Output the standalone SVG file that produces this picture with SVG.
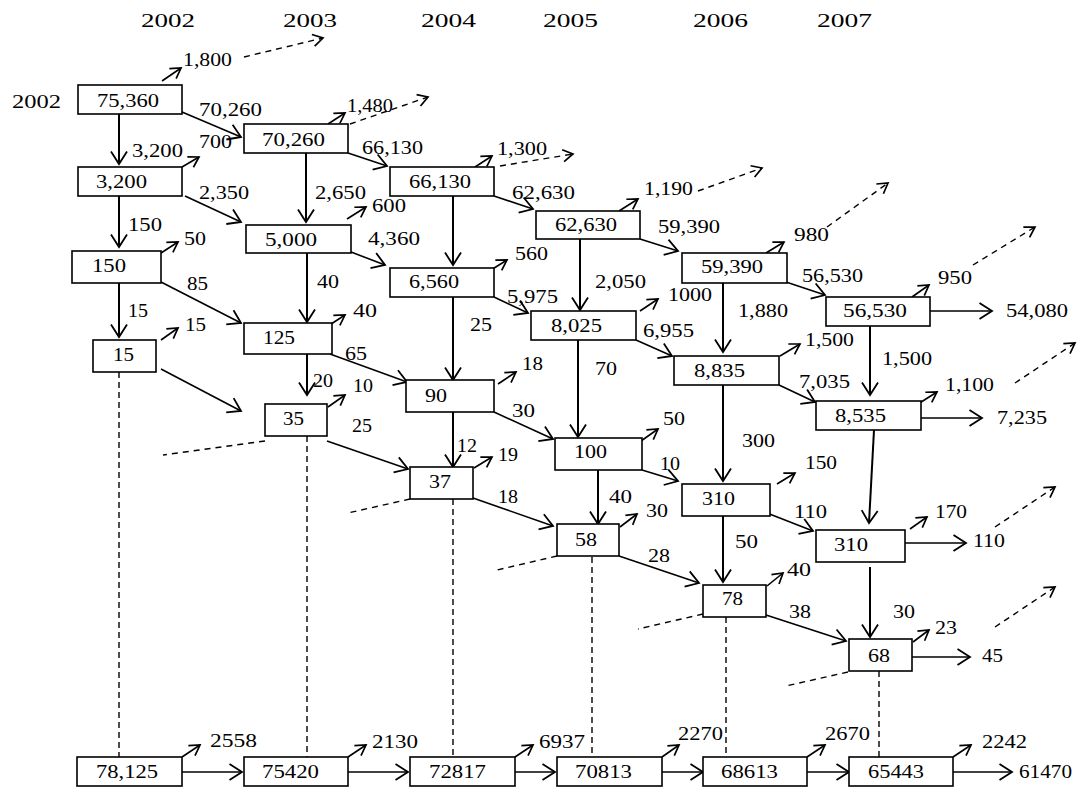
<svg xmlns="http://www.w3.org/2000/svg" width="1081" height="787" viewBox="0 0 1081 787">
<style>
text{font-family:"Liberation Serif","Times New Roman",serif;font-size:18px;fill:#000}
rect{fill:#fff;stroke:#000;stroke-width:1.6}
.c line{stroke:#000;stroke-width:1.6;fill:none}
.c .b{marker-end:url(#big)}
.c .v{stroke-width:2}
.c .s{marker-end:url(#sm)}
.c .d{stroke-dasharray:6 5;stroke-width:1.4}
.c .dv{stroke-dasharray:6 4;stroke-width:1.4}
</style>
<defs>
<marker id="big" markerUnits="userSpaceOnUse" markerWidth="20" markerHeight="20" viewBox="-15 -10 20 20" refX="0" refY="0" orient="auto" overflow="visible">
<path d="M-12.5,-8 L0,0 L-12.5,8" fill="none" stroke="#000" stroke-width="1.8"/>
</marker>
<marker id="sm" markerUnits="userSpaceOnUse" markerWidth="16" markerHeight="16" viewBox="-12 -8 16 16" refX="0" refY="0" orient="auto" overflow="visible">
<path d="M-10,-6 L0,0 L-10,6" fill="none" stroke="#000" stroke-width="1.7"/>
</marker>
</defs>
<rect x="0" y="0" width="1081" height="787" style="fill:#fff;stroke:none"/>

<g id="years">
<text x="141" y="27" textLength="54" lengthAdjust="spacingAndGlyphs">2002</text>
<text x="283" y="27" textLength="54" lengthAdjust="spacingAndGlyphs">2003</text>
<text x="421" y="27" textLength="55" lengthAdjust="spacingAndGlyphs">2004</text>
<text x="543" y="27" textLength="55" lengthAdjust="spacingAndGlyphs">2005</text>
<text x="693" y="27" textLength="55" lengthAdjust="spacingAndGlyphs">2006</text>
<text x="817" y="27" textLength="55" lengthAdjust="spacingAndGlyphs">2007</text>
<text x="12" y="108" textLength="49" lengthAdjust="spacingAndGlyphs">2002</text>
</g>

<g id="connectors" class="c">
<line class="dv" x1="119" y1="372" x2="119" y2="757"/>
<line class="dv" x1="307" y1="436" x2="307" y2="757"/>
<line class="dv" x1="453" y1="499" x2="453" y2="757"/>
<line class="dv" x1="592" y1="557" x2="592" y2="757"/>
<line class="dv" x1="726" y1="617" x2="726" y2="757"/>
<line class="dv" x1="879" y1="671" x2="879" y2="757"/>
<line class="d" x1="265" y1="441" x2="163" y2="455"/>
<line class="d" x1="410" y1="499" x2="348" y2="513"/>
<line class="d" x1="557" y1="556" x2="493" y2="571"/>
<line class="d" x1="703" y1="614" x2="638" y2="629"/>
<line class="d" x1="848" y1="672" x2="786" y2="686"/>
<line class="d s" x1="244" y1="57" x2="323" y2="38"/>
<line class="d s" x1="350" y1="124" x2="428" y2="97"/>
<line class="d s" x1="500" y1="166" x2="573" y2="154"/>
<line class="d s" x1="698" y1="191" x2="762" y2="168"/>
<line class="d s" x1="827" y1="227" x2="888" y2="183"/>
<line class="d s" x1="973" y1="265" x2="1035" y2="227"/>
<line class="d s" x1="1015" y1="383" x2="1075" y2="343"/>
<line class="d s" x1="995" y1="527" x2="1055" y2="487"/>
<line class="d s" x1="995" y1="627" x2="1055" y2="587"/>
<line class="b v" x1="119" y1="114" x2="119" y2="164"/>
<line class="b v" x1="119" y1="196" x2="119" y2="247"/>
<line class="b v" x1="119" y1="283" x2="119" y2="337"/>
<line class="b v" x1="306" y1="153" x2="306" y2="222"/>
<line class="b v" x1="307" y1="253" x2="307" y2="322"/>
<line class="b v" x1="307" y1="354" x2="307" y2="395"/>
<line class="b v" x1="453" y1="196" x2="453" y2="265"/>
<line class="b v" x1="453" y1="297" x2="453" y2="380"/>
<line class="b v" x1="453" y1="412" x2="453" y2="467"/>
<line class="b v" x1="580" y1="239" x2="580" y2="310"/>
<line class="b v" x1="578" y1="340" x2="578" y2="437"/>
<line class="b v" x1="598" y1="470" x2="598" y2="524"/>
<line class="b v" x1="723" y1="283" x2="723" y2="352"/>
<line class="b v" x1="723" y1="385" x2="723" y2="481"/>
<line class="b v" x1="723" y1="516" x2="723" y2="582"/>
<line class="b v" x1="870" y1="326" x2="870" y2="395"/>
<line class="b v" x1="874" y1="430" x2="869" y2="523"/>
<line class="b v" x1="870" y1="567" x2="870" y2="637"/>
<line class="b" x1="182" y1="112" x2="241" y2="137"/>
<line class="b" x1="185" y1="196" x2="241" y2="222"/>
<line class="b" x1="161" y1="282" x2="241" y2="323"/>
<line class="b" x1="161" y1="369" x2="241" y2="411"/>
<line class="b" x1="348" y1="153" x2="387" y2="166"/>
<line class="b" x1="351" y1="252" x2="385" y2="265"/>
<line class="b" x1="330" y1="354" x2="407" y2="382"/>
<line class="b" x1="327" y1="441" x2="408" y2="469"/>
<line class="b" x1="494" y1="196" x2="533" y2="209"/>
<line class="b" x1="494" y1="297" x2="528" y2="313"/>
<line class="b" x1="494" y1="412" x2="553" y2="439"/>
<line class="b" x1="473" y1="498" x2="553" y2="526"/>
<line class="b" x1="640" y1="239" x2="678" y2="251"/>
<line class="b" x1="636" y1="340" x2="672" y2="356"/>
<line class="b" x1="642" y1="470" x2="678" y2="481"/>
<line class="b" x1="619" y1="556" x2="699" y2="583"/>
<line class="b" x1="786" y1="282" x2="825" y2="295"/>
<line class="b" x1="779" y1="385" x2="815" y2="402"/>
<line class="b" x1="767" y1="513" x2="813" y2="531"/>
<line class="b" x1="766" y1="615" x2="846" y2="641"/>
<line class="b" x1="930" y1="311" x2="992" y2="311"/>
<line class="b" x1="921" y1="418" x2="982" y2="418"/>
<line class="b" x1="905" y1="543" x2="966" y2="543"/>
<line class="b" x1="912" y1="657" x2="970" y2="657"/>
<line class="b" x1="182" y1="772" x2="242" y2="772"/>
<line class="b" x1="348" y1="772" x2="408" y2="772"/>
<line class="b" x1="515" y1="772" x2="555" y2="772"/>
<line class="b" x1="662" y1="772" x2="703" y2="772"/>
<line class="b" x1="807" y1="772" x2="849" y2="772"/>
<line class="b" x1="953" y1="772" x2="1012" y2="772"/>
<line class="s" x1="162" y1="81" x2="181" y2="68"/>
<line class="s" x1="328" y1="124" x2="345" y2="113"/>
<line class="s" x1="182" y1="167" x2="199" y2="157"/>
<line class="s" x1="161" y1="253" x2="178" y2="242"/>
<line class="s" x1="347" y1="219" x2="366" y2="207"/>
<line class="s" x1="475" y1="167" x2="492" y2="156"/>
<line class="s" x1="619" y1="211" x2="638" y2="199"/>
<line class="s" x1="491" y1="270" x2="507" y2="260"/>
<line class="s" x1="766" y1="253" x2="784" y2="242"/>
<line class="s" x1="161" y1="340" x2="178" y2="328"/>
<line class="s" x1="328" y1="326" x2="345" y2="315"/>
<line class="s" x1="328" y1="407" x2="345" y2="395"/>
<line class="s" x1="640" y1="311" x2="658" y2="299"/>
<line class="s" x1="498" y1="384" x2="516" y2="372"/>
<line class="s" x1="641" y1="441" x2="658" y2="429"/>
<line class="s" x1="474" y1="468" x2="492" y2="457"/>
<line class="s" x1="912" y1="297" x2="929" y2="285"/>
<line class="s" x1="780" y1="356" x2="800" y2="344"/>
<line class="s" x1="918" y1="404" x2="937" y2="392"/>
<line class="s" x1="777" y1="484" x2="795" y2="473"/>
<line class="s" x1="620" y1="527" x2="637" y2="514"/>
<line class="s" x1="910" y1="529" x2="927" y2="517"/>
<line class="s" x1="767" y1="586" x2="783" y2="573"/>
<line class="s" x1="913" y1="642" x2="929" y2="630"/>
<line class="s" x1="182" y1="757" x2="200" y2="745"/>
<line class="s" x1="348" y1="757" x2="366" y2="745"/>
<line class="s" x1="515" y1="757" x2="533" y2="745"/>
<line class="s" x1="662" y1="757" x2="679" y2="745"/>
<line class="s" x1="807" y1="757" x2="825" y2="745"/>
<line class="s" x1="953" y1="757" x2="971" y2="745"/>
</g>

<g id="nodes">
<g id="n-75360"><rect x="78" y="85" width="104" height="29"/><text x="97" y="107" textLength="62" lengthAdjust="spacingAndGlyphs">75,360</text></g>
<g id="n-70260"><rect x="244" y="124" width="104" height="29"/><text x="262" y="146" textLength="63" lengthAdjust="spacingAndGlyphs">70,260</text></g>
<g id="n-3200"><rect x="78" y="167" width="104" height="29"/><text x="96" y="188" textLength="51" lengthAdjust="spacingAndGlyphs">3,200</text></g>
<g id="n-5000"><rect x="246" y="225" width="105" height="28"/><text x="265" y="246" textLength="52" lengthAdjust="spacingAndGlyphs">5,000</text></g>
<g id="n-66130"><rect x="390" y="167" width="104" height="29"/><text x="409" y="188" textLength="62" lengthAdjust="spacingAndGlyphs">66,130</text></g>
<g id="n-62630"><rect x="536" y="211" width="104" height="28"/><text x="555" y="231" textLength="62" lengthAdjust="spacingAndGlyphs">62,630</text></g>
<g id="n-150"><rect x="72" y="251" width="89" height="32"/><text x="92" y="272" textLength="34" lengthAdjust="spacingAndGlyphs">150</text></g>
<g id="n-15"><rect x="93" y="340" width="63" height="32"/><text x="113" y="361" textLength="21" lengthAdjust="spacingAndGlyphs">15</text></g>
<g id="n-125"><rect x="244" y="323" width="88" height="31"/><text x="263" y="344" textLength="32" lengthAdjust="spacingAndGlyphs">125</text></g>
<g id="n-35"><rect x="265" y="404" width="62" height="32"/><text x="283" y="425" textLength="21" lengthAdjust="spacingAndGlyphs">35</text></g>
<g id="n-6560"><rect x="390" y="268" width="104" height="29"/><text x="409" y="288" textLength="50" lengthAdjust="spacingAndGlyphs">6,560</text></g>
<g id="n-8025"><rect x="531" y="311" width="105" height="29"/><text x="551" y="332" textLength="51" lengthAdjust="spacingAndGlyphs">8,025</text></g>
<g id="n-90"><rect x="406" y="380" width="88" height="32"/><text x="425" y="402" textLength="22" lengthAdjust="spacingAndGlyphs">90</text></g>
<g id="n-100"><rect x="555" y="438" width="87" height="32"/><text x="574" y="458" textLength="33" lengthAdjust="spacingAndGlyphs">100</text></g>
<g id="n-37"><rect x="410" y="467" width="63" height="32"/><text x="429" y="488" textLength="22" lengthAdjust="spacingAndGlyphs">37</text></g>
<g id="n-58"><rect x="557" y="524" width="62" height="32"/><text x="575" y="546" textLength="22" lengthAdjust="spacingAndGlyphs">58</text></g>
<g id="n-59390"><rect x="682" y="253" width="105" height="30"/><text x="701" y="273" textLength="62" lengthAdjust="spacingAndGlyphs">59,390</text></g>
<g id="n-56530"><rect x="826" y="297" width="104" height="29"/><text x="843" y="317" textLength="64" lengthAdjust="spacingAndGlyphs">56,530</text></g>
<g id="n-8835"><rect x="674" y="356" width="105" height="29"/><text x="694" y="377" textLength="51" lengthAdjust="spacingAndGlyphs">8,835</text></g>
<g id="n-8535"><rect x="816" y="401" width="105" height="29"/><text x="835" y="422" textLength="51" lengthAdjust="spacingAndGlyphs">8,535</text></g>
<g id="n-310a"><rect x="682" y="484" width="88" height="32"/><text x="702" y="505" textLength="33" lengthAdjust="spacingAndGlyphs">310</text></g>
<g id="n-310b"><rect x="816" y="530" width="89" height="32"/><text x="834" y="551" textLength="34" lengthAdjust="spacingAndGlyphs">310</text></g>
<g id="n-78"><rect x="703" y="585" width="63" height="32"/><text x="722" y="605" textLength="21" lengthAdjust="spacingAndGlyphs">78</text></g>
<g id="n-68"><rect x="849" y="639" width="63" height="32"/><text x="868" y="662" textLength="22" lengthAdjust="spacingAndGlyphs">68</text></g>
<g id="n-78125"><rect x="77" y="757" width="105" height="29"/><text x="96" y="778" textLength="62" lengthAdjust="spacingAndGlyphs">78,125</text></g>
<g id="n-75420"><rect x="244" y="757" width="104" height="29"/><text x="262" y="778" textLength="57" lengthAdjust="spacingAndGlyphs">75420</text></g>
<g id="n-72817"><rect x="410" y="757" width="105" height="29"/><text x="429" y="778" textLength="57" lengthAdjust="spacingAndGlyphs">72817</text></g>
<g id="n-70813"><rect x="557" y="757" width="105" height="29"/><text x="575" y="778" textLength="57" lengthAdjust="spacingAndGlyphs">70813</text></g>
<g id="n-68613"><rect x="703" y="757" width="104" height="29"/><text x="721" y="778" textLength="57" lengthAdjust="spacingAndGlyphs">68613</text></g>
<g id="n-65443"><rect x="849" y="757" width="104" height="29"/><text x="868" y="778" textLength="56" lengthAdjust="spacingAndGlyphs">65443</text></g>
</g>

<g id="labels">
<text x="183" y="66" textLength="49" lengthAdjust="spacingAndGlyphs">1,800</text>
<text x="199" y="116" textLength="63" lengthAdjust="spacingAndGlyphs">70,260</text>
<text x="132" y="157" textLength="51" lengthAdjust="spacingAndGlyphs">3,200</text>
<text x="199" y="148" textLength="33" lengthAdjust="spacingAndGlyphs">700</text>
<text x="199" y="199" textLength="50" lengthAdjust="spacingAndGlyphs">2,350</text>
<text x="315" y="199" textLength="51" lengthAdjust="spacingAndGlyphs">2,650</text>
<text x="128" y="231" textLength="34" lengthAdjust="spacingAndGlyphs">150</text>
<text x="184" y="245" textLength="22" lengthAdjust="spacingAndGlyphs">50</text>
<text x="372" y="212" textLength="34" lengthAdjust="spacingAndGlyphs">600</text>
<text x="347" y="112" textLength="46" lengthAdjust="spacingAndGlyphs">1,480</text>
<text x="362" y="154" textLength="61" lengthAdjust="spacingAndGlyphs">66,130</text>
<text x="497" y="155" textLength="50" lengthAdjust="spacingAndGlyphs">1,300</text>
<text x="512" y="199" textLength="63" lengthAdjust="spacingAndGlyphs">62,630</text>
<text x="644" y="195" textLength="49" lengthAdjust="spacingAndGlyphs">1,190</text>
<text x="658" y="233" textLength="62" lengthAdjust="spacingAndGlyphs">59,390</text>
<text x="368" y="245" textLength="52" lengthAdjust="spacingAndGlyphs">4,360</text>
<text x="515" y="260" textLength="33" lengthAdjust="spacingAndGlyphs">560</text>
<text x="794" y="241" textLength="35" lengthAdjust="spacingAndGlyphs">980</text>
<text x="187" y="290" textLength="21" lengthAdjust="spacingAndGlyphs">85</text>
<text x="128" y="317" textLength="20" lengthAdjust="spacingAndGlyphs">15</text>
<text x="185" y="331" textLength="21" lengthAdjust="spacingAndGlyphs">15</text>
<text x="317" y="288" textLength="22" lengthAdjust="spacingAndGlyphs">40</text>
<text x="353" y="317" textLength="24" lengthAdjust="spacingAndGlyphs">40</text>
<text x="345" y="360" textLength="22" lengthAdjust="spacingAndGlyphs">65</text>
<text x="313" y="387" textLength="20" lengthAdjust="spacingAndGlyphs">20</text>
<text x="353" y="392" textLength="20" lengthAdjust="spacingAndGlyphs">10</text>
<text x="352" y="432" textLength="20" lengthAdjust="spacingAndGlyphs">25</text>
<text x="470" y="331" textLength="22" lengthAdjust="spacingAndGlyphs">25</text>
<text x="595" y="288" textLength="51" lengthAdjust="spacingAndGlyphs">2,050</text>
<text x="507" y="303" textLength="51" lengthAdjust="spacingAndGlyphs">5,975</text>
<text x="668" y="301" textLength="44" lengthAdjust="spacingAndGlyphs">1000</text>
<text x="643" y="337" textLength="51" lengthAdjust="spacingAndGlyphs">6,955</text>
<text x="595" y="375" textLength="22" lengthAdjust="spacingAndGlyphs">70</text>
<text x="522" y="370" textLength="21" lengthAdjust="spacingAndGlyphs">18</text>
<text x="512" y="417" textLength="23" lengthAdjust="spacingAndGlyphs">30</text>
<text x="663" y="425" textLength="22" lengthAdjust="spacingAndGlyphs">50</text>
<text x="457" y="452" textLength="20" lengthAdjust="spacingAndGlyphs">12</text>
<text x="498" y="461" textLength="20" lengthAdjust="spacingAndGlyphs">19</text>
<text x="660" y="470" textLength="20" lengthAdjust="spacingAndGlyphs">10</text>
<text x="802" y="282" textLength="61" lengthAdjust="spacingAndGlyphs">56,530</text>
<text x="938" y="284" textLength="34" lengthAdjust="spacingAndGlyphs">950</text>
<text x="1006" y="317" textLength="62" lengthAdjust="spacingAndGlyphs">54,080</text>
<text x="738" y="317" textLength="50" lengthAdjust="spacingAndGlyphs">1,880</text>
<text x="805" y="346" textLength="49" lengthAdjust="spacingAndGlyphs">1,500</text>
<text x="882" y="365" textLength="50" lengthAdjust="spacingAndGlyphs">1,500</text>
<text x="799" y="388" textLength="51" lengthAdjust="spacingAndGlyphs">7,035</text>
<text x="945" y="391" textLength="49" lengthAdjust="spacingAndGlyphs">1,100</text>
<text x="997" y="424" textLength="50" lengthAdjust="spacingAndGlyphs">7,235</text>
<text x="742" y="447" textLength="33" lengthAdjust="spacingAndGlyphs">300</text>
<text x="805" y="469" textLength="32" lengthAdjust="spacingAndGlyphs">150</text>
<text x="794" y="518" textLength="33" lengthAdjust="spacingAndGlyphs">110</text>
<text x="935" y="518" textLength="32" lengthAdjust="spacingAndGlyphs">170</text>
<text x="973" y="547" textLength="32" lengthAdjust="spacingAndGlyphs">110</text>
<text x="735" y="548" textLength="23" lengthAdjust="spacingAndGlyphs">50</text>
<text x="787" y="576" textLength="24" lengthAdjust="spacingAndGlyphs">40</text>
<text x="789" y="618" textLength="22" lengthAdjust="spacingAndGlyphs">38</text>
<text x="893" y="618" textLength="22" lengthAdjust="spacingAndGlyphs">30</text>
<text x="935" y="634" textLength="22" lengthAdjust="spacingAndGlyphs">23</text>
<text x="982" y="662" textLength="21" lengthAdjust="spacingAndGlyphs">45</text>
<text x="498" y="503" textLength="20" lengthAdjust="spacingAndGlyphs">18</text>
<text x="609" y="503" textLength="23" lengthAdjust="spacingAndGlyphs">40</text>
<text x="646" y="517" textLength="22" lengthAdjust="spacingAndGlyphs">30</text>
<text x="648" y="562" textLength="22" lengthAdjust="spacingAndGlyphs">28</text>
<text x="210" y="747" textLength="47" lengthAdjust="spacingAndGlyphs">2558</text>
<text x="372" y="748" textLength="46" lengthAdjust="spacingAndGlyphs">2130</text>
<text x="539" y="748" textLength="46" lengthAdjust="spacingAndGlyphs">6937</text>
<text x="678" y="740" textLength="45" lengthAdjust="spacingAndGlyphs">2270</text>
<text x="825" y="740" textLength="45" lengthAdjust="spacingAndGlyphs">2670</text>
<text x="982" y="748" textLength="45" lengthAdjust="spacingAndGlyphs">2242</text>
<text x="1019" y="778" textLength="53" lengthAdjust="spacingAndGlyphs">61470</text>
</g>
</svg>
